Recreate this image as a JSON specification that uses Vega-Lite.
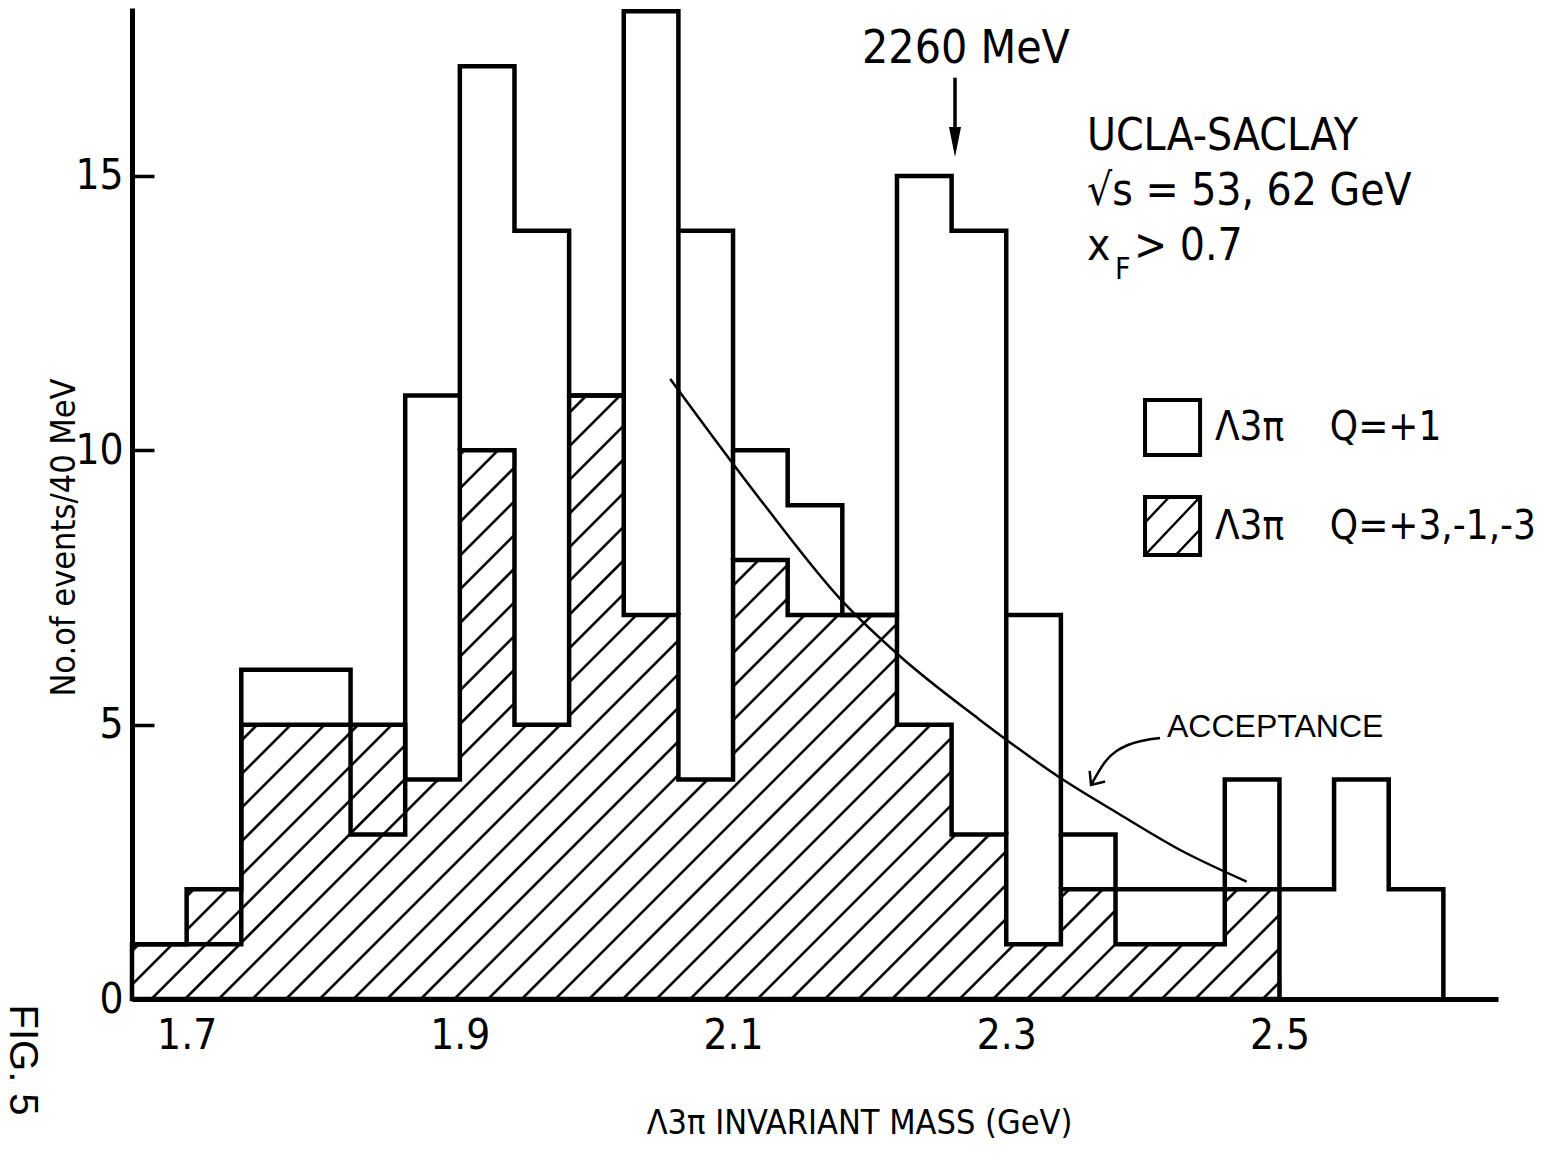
{
  "$schema": "https://vega.github.io/schema/vega-lite/v6.json",
  "width": 1366,
  "height": 991,
  "autosize": "none",
  "padding": {"left": 132, "top": 8, "right": 47, "bottom": 154},
  "background": "white",
  "config": {
    "view": {"stroke": null},
    "font": "Liberation Sans Narrow, DejaVu Sans Condensed, Liberation Sans, sans-serif",
    "axis": {"grid": false, "domainColor": "black", "domainWidth": 5, "tickColor": "black", "tickWidth": 3.5, "tickSize": -22,
      "labelFontSize": 42, "labelColor": "black", "labelFlush": false, "labelOverlap": false,
      "titleFontSize": 34, "titleFontWeight": "normal", "titleColor": "black"},
    "axisX": {"labelPadding": 38},
    "axisY": {"labelPadding": 31}
  },
  "datasets": {
    "hatched": [{"m":1.66,"n":1},{"m":1.70,"n":2},{"m":1.74,"n":5},{"m":1.78,"n":5},{"m":1.82,"n":5},{"m":1.86,"n":4},{"m":1.90,"n":10},{"m":1.94,"n":5},{"m":1.98,"n":11},{"m":2.02,"n":7},{"m":2.06,"n":4},{"m":2.10,"n":8},{"m":2.14,"n":7},{"m":2.18,"n":7},{"m":2.22,"n":5},{"m":2.26,"n":3},{"m":2.30,"n":1},{"m":2.34,"n":2},{"m":2.38,"n":1},{"m":2.42,"n":1},{"m":2.46,"n":2},{"m":2.50,"n":0}],
    "open": [{"m":1.66,"n":1},{"m":1.70,"n":1},{"m":1.74,"n":6},{"m":1.78,"n":6},{"m":1.82,"n":3},{"m":1.86,"n":11},{"m":1.90,"n":17},{"m":1.94,"n":14},{"m":1.98,"n":11},{"m":2.02,"n":18},{"m":2.06,"n":14},{"m":2.10,"n":10},{"m":2.14,"n":9},{"m":2.18,"n":7},{"m":2.22,"n":15},{"m":2.26,"n":14},{"m":2.30,"n":7},{"m":2.34,"n":3},{"m":2.38,"n":2},{"m":2.42,"n":2},{"m":2.46,"n":4},{"m":2.50,"n":2},{"m":2.54,"n":4},{"m":2.58,"n":2},{"m":2.62,"n":0}],
    "edges": [{"m":1.90,"lo":10,"hi":11},{"m":2.06,"lo":7,"hi":14},{"m":2.10,"lo":8,"hi":10},{"m":2.30,"lo":3,"hi":7},{"m":2.34,"lo":2,"hi":3}],
    "acceptance": [{"m":2.054,"n":11.3},{"m":2.12,"n":9.1},{"m":2.18,"n":7.25},{"m":2.222,"n":6.25},{"m":2.28,"n":5.1},{"m":2.342,"n":3.99},{"m":2.382,"n":3.38},{"m":2.427,"n":2.72},{"m":2.476,"n":2.14}],
    "arrow": [{"m":2.2625,"a":16.79,"b":15.62}],
    "accArrow": [{"m":2.3621,"n":3.90},{"m":2.3723,"n":4.319},{"m":2.3891,"n":4.629},{"m":2.4126,"n":4.757}],
    "accHead": [{"m":2.3621,"n":3.90}],
    "boxOpen": [{"x1":2.4016,"x2":2.4419,"y1":9.914,"y2":10.917}],
    "boxHatch": [{"x1":2.4016,"x2":2.4419,"y1":8.092,"y2":9.149}],
    "peak": [{"m":2.2705,"n":17.06,"t":"2260 MeV"}],
    "header": [{"m":2.3591,"n":15.47,"t":"UCLA-SACLAY"},{"m":2.3591,"n":14.47,"t":"√s = 53, 62 GeV"},{"m":2.3591,"n":13.47,"t":"x"},{"m":2.3935,"n":13.47,"t":"> 0.7"}],
    "sub": [{"m":2.3796,"n":13.12,"t":"F"}],
    "legendText": [{"m":2.4528,"n":10.41,"t":"Λ3π\u00a0\u00a0\u00a0\u00a0Q=+1"},{"m":2.4528,"n":8.60,"t":"Λ3π\u00a0\u00a0\u00a0\u00a0Q=+3,-1,-3"}],
    "accText": [{"m":2.4177,"n":4.77,"t":"ACCEPTANCE"}],
    "fig": [{"m":1.5795,"n":-0.10,"t":"FIG. 5"}]
  },
  "layer": [
    {
      "data": {"name": "hatched"},
      "mark": {"type": "area", "interpolate": "step-after", "opacity": 1, "stroke": "black", "strokeWidth": 4.5, "strokeJoin": "miter",
        "fill": {"gradient": "linear", "x1": 0, "y1": 0, "x2": 1.1953, "y2": 0.6288, "stops": [
          {"offset":0,"color":"white"},
          {"offset":0.0081,"color":"white"},{"offset":0.0090,"color":"black"},{"offset":0.0102,"color":"black"},{"offset":0.0111,"color":"white"},
          {"offset":0.0273,"color":"white"},{"offset":0.0282,"color":"black"},{"offset":0.0294,"color":"black"},{"offset":0.0303,"color":"white"},
          {"offset":0.0466,"color":"white"},{"offset":0.0475,"color":"black"},{"offset":0.0487,"color":"black"},{"offset":0.0496,"color":"white"},
          {"offset":0.0658,"color":"white"},{"offset":0.0667,"color":"black"},{"offset":0.0679,"color":"black"},{"offset":0.0688,"color":"white"},
          {"offset":0.0850,"color":"white"},{"offset":0.0859,"color":"black"},{"offset":0.0871,"color":"black"},{"offset":0.0880,"color":"white"},
          {"offset":0.1043,"color":"white"},{"offset":0.1052,"color":"black"},{"offset":0.1064,"color":"black"},{"offset":0.1073,"color":"white"},
          {"offset":0.1235,"color":"white"},{"offset":0.1244,"color":"black"},{"offset":0.1256,"color":"black"},{"offset":0.1265,"color":"white"},
          {"offset":0.1427,"color":"white"},{"offset":0.1436,"color":"black"},{"offset":0.1448,"color":"black"},{"offset":0.1457,"color":"white"},
          {"offset":0.1620,"color":"white"},{"offset":0.1629,"color":"black"},{"offset":0.1641,"color":"black"},{"offset":0.1650,"color":"white"},
          {"offset":0.1812,"color":"white"},{"offset":0.1821,"color":"black"},{"offset":0.1833,"color":"black"},{"offset":0.1842,"color":"white"},
          {"offset":0.2004,"color":"white"},{"offset":0.2013,"color":"black"},{"offset":0.2025,"color":"black"},{"offset":0.2034,"color":"white"},
          {"offset":0.2197,"color":"white"},{"offset":0.2206,"color":"black"},{"offset":0.2218,"color":"black"},{"offset":0.2227,"color":"white"},
          {"offset":0.2389,"color":"white"},{"offset":0.2398,"color":"black"},{"offset":0.2410,"color":"black"},{"offset":0.2419,"color":"white"},
          {"offset":0.2581,"color":"white"},{"offset":0.2590,"color":"black"},{"offset":0.2602,"color":"black"},{"offset":0.2611,"color":"white"},
          {"offset":0.2773,"color":"white"},{"offset":0.2782,"color":"black"},{"offset":0.2794,"color":"black"},{"offset":0.2803,"color":"white"},
          {"offset":0.2966,"color":"white"},{"offset":0.2975,"color":"black"},{"offset":0.2987,"color":"black"},{"offset":0.2996,"color":"white"},
          {"offset":0.3158,"color":"white"},{"offset":0.3167,"color":"black"},{"offset":0.3179,"color":"black"},{"offset":0.3188,"color":"white"},
          {"offset":0.3350,"color":"white"},{"offset":0.3359,"color":"black"},{"offset":0.3371,"color":"black"},{"offset":0.3380,"color":"white"},
          {"offset":0.3543,"color":"white"},{"offset":0.3552,"color":"black"},{"offset":0.3564,"color":"black"},{"offset":0.3573,"color":"white"},
          {"offset":0.3735,"color":"white"},{"offset":0.3744,"color":"black"},{"offset":0.3756,"color":"black"},{"offset":0.3765,"color":"white"},
          {"offset":0.3927,"color":"white"},{"offset":0.3936,"color":"black"},{"offset":0.3948,"color":"black"},{"offset":0.3957,"color":"white"},
          {"offset":0.4120,"color":"white"},{"offset":0.4129,"color":"black"},{"offset":0.4141,"color":"black"},{"offset":0.4150,"color":"white"},
          {"offset":0.4312,"color":"white"},{"offset":0.4321,"color":"black"},{"offset":0.4333,"color":"black"},{"offset":0.4342,"color":"white"},
          {"offset":0.4504,"color":"white"},{"offset":0.4513,"color":"black"},{"offset":0.4525,"color":"black"},{"offset":0.4534,"color":"white"},
          {"offset":0.4697,"color":"white"},{"offset":0.4706,"color":"black"},{"offset":0.4718,"color":"black"},{"offset":0.4727,"color":"white"},
          {"offset":0.4889,"color":"white"},{"offset":0.4898,"color":"black"},{"offset":0.4910,"color":"black"},{"offset":0.4919,"color":"white"},
          {"offset":0.5081,"color":"white"},{"offset":0.5090,"color":"black"},{"offset":0.5102,"color":"black"},{"offset":0.5111,"color":"white"},
          {"offset":0.5273,"color":"white"},{"offset":0.5282,"color":"black"},{"offset":0.5294,"color":"black"},{"offset":0.5303,"color":"white"},
          {"offset":0.5466,"color":"white"},{"offset":0.5475,"color":"black"},{"offset":0.5487,"color":"black"},{"offset":0.5496,"color":"white"},
          {"offset":0.5658,"color":"white"},{"offset":0.5667,"color":"black"},{"offset":0.5679,"color":"black"},{"offset":0.5688,"color":"white"},
          {"offset":0.5850,"color":"white"},{"offset":0.5859,"color":"black"},{"offset":0.5871,"color":"black"},{"offset":0.5880,"color":"white"},
          {"offset":0.6043,"color":"white"},{"offset":0.6052,"color":"black"},{"offset":0.6064,"color":"black"},{"offset":0.6073,"color":"white"},
          {"offset":0.6235,"color":"white"},{"offset":0.6244,"color":"black"},{"offset":0.6256,"color":"black"},{"offset":0.6265,"color":"white"},
          {"offset":0.6427,"color":"white"},{"offset":0.6436,"color":"black"},{"offset":0.6448,"color":"black"},{"offset":0.6457,"color":"white"},
          {"offset":0.6620,"color":"white"},{"offset":0.6629,"color":"black"},{"offset":0.6641,"color":"black"},{"offset":0.6650,"color":"white"},
          {"offset":0.6812,"color":"white"},{"offset":0.6821,"color":"black"},{"offset":0.6833,"color":"black"},{"offset":0.6842,"color":"white"},
          {"offset":0.7004,"color":"white"},{"offset":0.7013,"color":"black"},{"offset":0.7025,"color":"black"},{"offset":0.7034,"color":"white"},
          {"offset":0.7197,"color":"white"},{"offset":0.7206,"color":"black"},{"offset":0.7218,"color":"black"},{"offset":0.7227,"color":"white"},
          {"offset":0.7389,"color":"white"},{"offset":0.7398,"color":"black"},{"offset":0.7410,"color":"black"},{"offset":0.7419,"color":"white"},
          {"offset":0.7581,"color":"white"},{"offset":0.7590,"color":"black"},{"offset":0.7602,"color":"black"},{"offset":0.7611,"color":"white"},
          {"offset":0.7773,"color":"white"},{"offset":0.7782,"color":"black"},{"offset":0.7794,"color":"black"},{"offset":0.7803,"color":"white"},
          {"offset":0.7966,"color":"white"},{"offset":0.7975,"color":"black"},{"offset":0.7987,"color":"black"},{"offset":0.7996,"color":"white"},
          {"offset":0.8158,"color":"white"},{"offset":0.8167,"color":"black"},{"offset":0.8179,"color":"black"},{"offset":0.8188,"color":"white"},
          {"offset":0.8350,"color":"white"},{"offset":0.8359,"color":"black"},{"offset":0.8371,"color":"black"},{"offset":0.8380,"color":"white"},
          {"offset":0.8543,"color":"white"},{"offset":0.8552,"color":"black"},{"offset":0.8564,"color":"black"},{"offset":0.8573,"color":"white"},
          {"offset":0.8735,"color":"white"},{"offset":0.8744,"color":"black"},{"offset":0.8756,"color":"black"},{"offset":0.8765,"color":"white"},
          {"offset":0.8927,"color":"white"},{"offset":0.8936,"color":"black"},{"offset":0.8948,"color":"black"},{"offset":0.8957,"color":"white"},
          {"offset":0.9120,"color":"white"},{"offset":0.9129,"color":"black"},{"offset":0.9141,"color":"black"},{"offset":0.9150,"color":"white"},
          {"offset":0.9312,"color":"white"},{"offset":0.9321,"color":"black"},{"offset":0.9333,"color":"black"},{"offset":0.9342,"color":"white"},
          {"offset":0.9504,"color":"white"},{"offset":0.9513,"color":"black"},{"offset":0.9525,"color":"black"},{"offset":0.9534,"color":"white"},
          {"offset":0.9697,"color":"white"},{"offset":0.9706,"color":"black"},{"offset":0.9718,"color":"black"},{"offset":0.9727,"color":"white"},
          {"offset":0.9889,"color":"white"},{"offset":0.9898,"color":"black"},{"offset":0.9910,"color":"black"},{"offset":0.9919,"color":"white"},
          {"offset":1,"color":"white"}
        ]}
      },
      "encoding": {
        "x": {"field": "m", "type": "quantitative",
          "scale": {"domain": [1.66, 2.66], "nice": false, "zero": false},
          "axis": {"values": [1.7, 1.9, 2.1, 2.3, 2.5], "format": ".1f", "title": "Λ3π INVARIANT MASS (GeV)",
            "titleX": 727, "titleY": 134, "titleBaseline": "alphabetic", "titleAlign": "center"}},
        "y": {"field": "n", "type": "quantitative",
          "scale": {"domain": [0, 18.06], "nice": false, "zero": true},
          "axis": {"values": [0, 5, 10, 15], "title": "No.of events/40 MeV",
            "titleX": -58, "titleY": 529, "titleAngle": 270, "titleBaseline": "alphabetic", "titleAlign": "center"}}
      }
    },
    {
      "data": {"name": "open"},
      "mark": {"type": "line", "interpolate": "step-after", "stroke": "black", "strokeWidth": 4.5, "strokeJoin": "miter"},
      "encoding": {
        "x": {"field": "m", "type": "quantitative"},
        "y": {"field": "n", "type": "quantitative"}
      }
    },
    {
      "data": {"name": "edges"},
      "mark": {"type": "rule", "color": "black", "strokeWidth": 4.5},
      "encoding": {
        "x": {"field": "m", "type": "quantitative"},
        "y": {"field": "lo", "type": "quantitative"},
        "y2": {"field": "hi"}
      }
    },
    {
      "data": {"name": "acceptance"},
      "mark": {"type": "line", "interpolate": "monotone", "stroke": "black", "strokeWidth": 2.5},
      "encoding": {
        "x": {"field": "m", "type": "quantitative"},
        "y": {"field": "n", "type": "quantitative"}
      }
    },
    {
      "data": {"name": "arrow"},
      "mark": {"type": "rule", "color": "black", "strokeWidth": 3.5},
      "encoding": {
        "x": {"field": "m", "type": "quantitative"},
        "y": {"field": "a", "type": "quantitative"},
        "y2": {"field": "b"}
      }
    },
    {
      "data": {"name": "arrow"},
      "mark": {"type": "point", "shape": "M-0.4,-1L0.4,-1L0,1Z", "filled": true, "fill": "black", "opacity": 1, "size": 900, "strokeWidth": 0},
      "encoding": {
        "x": {"field": "m", "type": "quantitative"},
        "y": {"field": "b", "type": "quantitative"}
      }
    },
    {
      "data": {"name": "accArrow"},
      "mark": {"type": "line", "interpolate": "monotone", "stroke": "black", "strokeWidth": 2.5},
      "encoding": {
        "x": {"field": "m", "type": "quantitative"},
        "y": {"field": "n", "type": "quantitative"}
      }
    },
    {
      "data": {"name": "accHead"},
      "mark": {"type": "point", "shape": "M-0.1,-1L0,0L1,-0.25", "filled": false, "stroke": "black", "strokeWidth": 2.5, "opacity": 1, "size": 784},
      "encoding": {
        "x": {"field": "m", "type": "quantitative"},
        "y": {"field": "n", "type": "quantitative"}
      }
    },
    {
      "data": {"name": "boxOpen"},
      "mark": {"type": "rect", "fill": "white", "stroke": "black", "strokeWidth": 4},
      "encoding": {
        "x": {"field": "x1", "type": "quantitative"},
        "x2": {"field": "x2"},
        "y": {"field": "y1", "type": "quantitative"},
        "y2": {"field": "y2"}
      }
    },
    {
      "data": {"name": "boxHatch"},
      "mark": {"type": "rect", "stroke": "black", "strokeWidth": 4,
        "fill": {"gradient": "linear", "x1": 0, "y1": 0, "x2": 1, "y2": 1, "stops": [
          {"offset":0,"color":"white"},
          {"offset":0.20,"color":"white"},{"offset":0.21,"color":"black"},{"offset":0.23,"color":"black"},{"offset":0.24,"color":"white"},
          {"offset":0.48,"color":"white"},{"offset":0.49,"color":"black"},{"offset":0.51,"color":"black"},{"offset":0.52,"color":"white"},
          {"offset":0.76,"color":"white"},{"offset":0.77,"color":"black"},{"offset":0.79,"color":"black"},{"offset":0.80,"color":"white"},
          {"offset":1,"color":"white"}
        ]}},
      "encoding": {
        "x": {"field": "x1", "type": "quantitative"},
        "x2": {"field": "x2"},
        "y": {"field": "y1", "type": "quantitative"},
        "y2": {"field": "y2"}
      }
    },
    {
      "data": {"name": "peak"},
      "mark": {"type": "text", "align": "center", "baseline": "alphabetic", "fontSize": 46, "color": "black"},
      "encoding": {
        "x": {"field": "m", "type": "quantitative"},
        "y": {"field": "n", "type": "quantitative"},
        "text": {"field": "t"}
      }
    },
    {
      "data": {"name": "header"},
      "mark": {"type": "text", "align": "left", "baseline": "alphabetic", "fontSize": 44, "color": "black"},
      "encoding": {
        "x": {"field": "m", "type": "quantitative"},
        "y": {"field": "n", "type": "quantitative"},
        "text": {"field": "t"}
      }
    },
    {
      "data": {"name": "sub"},
      "mark": {"type": "text", "align": "left", "baseline": "alphabetic", "fontSize": 30, "color": "black"},
      "encoding": {
        "x": {"field": "m", "type": "quantitative"},
        "y": {"field": "n", "type": "quantitative"},
        "text": {"field": "t"}
      }
    },
    {
      "data": {"name": "legendText"},
      "mark": {"type": "text", "align": "left", "baseline": "middle", "fontSize": 40, "color": "black"},
      "encoding": {
        "x": {"field": "m", "type": "quantitative"},
        "y": {"field": "n", "type": "quantitative"},
        "text": {"field": "t"}
      }
    },
    {
      "data": {"name": "accText"},
      "mark": {"type": "text", "align": "left", "baseline": "alphabetic", "fontSize": 32, "font": "Liberation Sans", "color": "black"},
      "encoding": {
        "x": {"field": "m", "type": "quantitative"},
        "y": {"field": "n", "type": "quantitative"},
        "text": {"field": "t"}
      }
    },
    {
      "data": {"name": "fig"},
      "mark": {"type": "text", "align": "left", "baseline": "middle", "angle": 90, "fontSize": 40, "font": "Liberation Sans", "color": "black"},
      "encoding": {
        "x": {"field": "m", "type": "quantitative"},
        "y": {"field": "n", "type": "quantitative"},
        "text": {"field": "t"}
      }
    }
  ]
}
